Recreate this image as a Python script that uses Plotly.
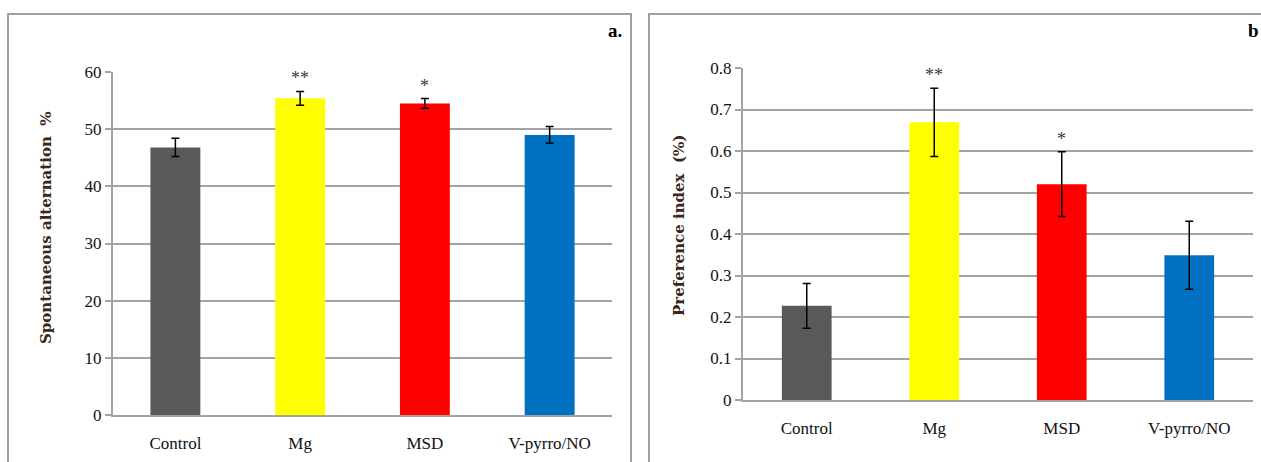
import plotly.graph_objects as go

categories = ["Control", "Mg", "MSD", "V-pyrro/NO"]
colors = ["#595959", "#FFFF00", "#FF0000", "#0070C0"]

alt_values = [46.8, 55.4, 54.5, 49.0]
alt_errors = [1.6, 1.2, 0.85, 1.45]
alt_marks = ["", "**", "*", ""]
alt_ticks = [0, 10, 20, 30, 40, 50, 60]

pref_values = [0.227, 0.669, 0.520, 0.349]
pref_errors = [0.054, 0.082, 0.078, 0.082]
pref_marks = ["", "**", "*", ""]
pref_ticks = [0, 0.1, 0.2, 0.3, 0.4, 0.5, 0.6, 0.7, 0.8]

W, H = 1261, 462
FONT = "Liberation Serif"
TFONT = "DejaVu Serif"
GRID = "#a3a3a3"

def px(x):
    return x / W

def py(y):
    return (H - y) / H

fig = go.Figure()

fig.add_trace(go.Bar(
    x=categories, y=alt_values, marker=dict(color=colors, line=dict(width=0)),
    width=0.4,
    error_y=dict(type="data", array=alt_errors, color="black", thickness=1.5, width=4),
    xaxis="x", yaxis="y", showlegend=False, hoverinfo="skip",
))
fig.add_trace(go.Bar(
    x=categories, y=pref_values, marker=dict(color=colors, line=dict(width=0)),
    width=0.39,
    error_y=dict(type="data", array=pref_errors, color="black", thickness=1.5, width=4),
    xaxis="x2", yaxis="y2", showlegend=False, hoverinfo="skip",
))

annotations = []
for c, v, e, m in zip(categories, alt_values, alt_errors, alt_marks):
    if m:
        annotations.append(dict(x=c, y=v + e, xref="x", yref="y", text=m, showarrow=False,
                                yanchor="bottom", yshift=1,
                                font=dict(family=FONT, size=18, color="#3a3a3a")))
for c, v, e, m in zip(categories, pref_values, pref_errors, pref_marks):
    if m:
        annotations.append(dict(x=c, y=v + e, xref="x2", yref="y2", text=m, showarrow=False,
                                yanchor="bottom", yshift=1,
                                font=dict(family=FONT, size=18, color="#3a3a3a")))

annotations.append(dict(x=px(624), y=py(30), xref="paper", yref="paper", text="<b>a.</b>",
                        showarrow=False, xanchor="right", yanchor="middle",
                        font=dict(family=FONT, size=19, color="black")))
annotations.append(dict(x=px(1261), y=py(30), xref="paper", yref="paper", text="<b>b</b>",
                        showarrow=False, xanchor="right", yanchor="middle",
                        font=dict(family=FONT, size=19, color="black")))
annotations.append(dict(x=px(46), y=py(228), xref="paper", yref="paper",
                        text="<b>Spontaneous alternation  %</b>", textangle=-90,
                        showarrow=False, xanchor="center", yanchor="middle",
                        font=dict(family=TFONT, size=15, color="#3b2618")))
annotations.append(dict(x=px(679), y=py(226), xref="paper", yref="paper",
                        text="<b>Preference index  (%)</b>", textangle=-90,
                        showarrow=False, xanchor="center", yanchor="middle",
                        font=dict(family=TFONT, size=15, color="#3b2618")))

axis_common = dict(
    showgrid=True, gridcolor=GRID, gridwidth=2,
    showline=True, linecolor=GRID, linewidth=2,
    ticks="outside", ticklen=6, tickcolor=GRID, tickwidth=2,
    tickfont=dict(family=FONT, size=17, color="#111111"),
    zeroline=False, automargin=False, fixedrange=True,
)
xaxis_common = dict(
    showgrid=False, showline=True, linecolor=GRID, linewidth=2,
    ticks="", tickfont=dict(family=FONT, size=17, color="#111111"),
    ticklabelstandoff=12, automargin=False, fixedrange=True,
)

fig.update_layout(
    width=W, height=H,
    margin=dict(l=0, r=0, t=0, b=0),
    paper_bgcolor="white", plot_bgcolor="white",
    bargap=0.6,
    hovermode=False,
    xaxis=dict(domain=[px(113), px(612)], anchor="y", **xaxis_common),
    yaxis=dict(domain=[py(415), py(72)], anchor="x", range=[0, 60], tickvals=alt_ticks,
               **axis_common),
    xaxis2=dict(domain=[px(743), px(1253)], anchor="y2", **xaxis_common),
    yaxis2=dict(domain=[py(400), py(68)], anchor="x2", range=[0, 0.8], tickvals=pref_ticks,
                tickformat=".1~f", **axis_common),
    annotations=annotations,
    shapes=[
        dict(type="rect", xref="paper", yref="paper", x0=px(8), x1=px(631), y0=-0.2, y1=py(14),
             line=dict(color="#a0a0a0", width=2), fillcolor="rgba(0,0,0,0)", layer="below"),
        dict(type="rect", xref="paper", yref="paper", x0=px(649), x1=1.2, y0=-0.2, y1=py(14),
             line=dict(color="#a0a0a0", width=2), fillcolor="rgba(0,0,0,0)", layer="below"),
    ],
)

fig.write_html("out.html", config={"displayModeBar": False, "staticPlot": True},
               post_script="document.body.style.margin='0';document.body.style.padding='0';")
